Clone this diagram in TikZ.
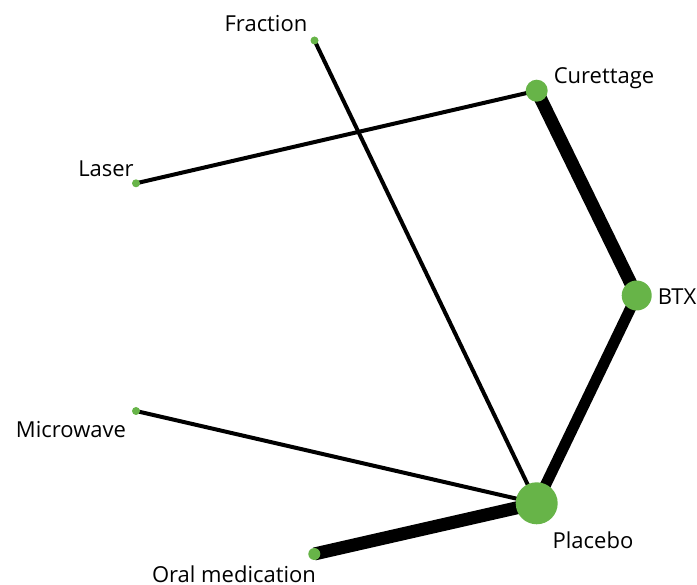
\documentclass[tikz,border=0pt]{standalone}
\usepackage{fontspec}
\setmainfont{Open Sans}
\definecolor{nodegreen}{RGB}{103,180,72}
\begin{document}
\begin{tikzpicture}[x=1pt,y=-1pt,
  dot/.style={circle,fill=nodegreen,inner sep=0pt,minimum size=#1},
  lab/.style={anchor=base,font=\fontsize{22}{24}\selectfont,inner sep=0pt},
  edge/.style={draw=black,line width=#1}]
\useasboundingbox (0,0) rectangle (697,585);
% node positions
\coordinate (pF) at (314.5,40.5);
\coordinate (pC) at (536.7,90.7);
\coordinate (pL) at (136,183.3);
\coordinate (pB) at (636.7,295.5);
\coordinate (pM) at (136,411);
\coordinate (pP) at (536.7,503.3);
\coordinate (pO) at (314.3,554);
% edges
\draw[edge=4pt] (pF) -- (pP);
\draw[edge=4pt] (pL) -- (pC);
\draw[edge=4pt] (pM) -- (pP);
\draw[edge=13pt] (pC) -- (pB);
\draw[edge=11pt] (pB) -- (pP);
\draw[edge=13pt] (pO) -- (pP);
% nodes
\node[dot=8pt] (F) at (pF) {};
\node[dot=22pt] (C) at (pC) {};
\node[dot=8pt] (L) at (pL) {};
\node[dot=30pt] (B) at (pB) {};
\node[dot=8pt] (M) at (pM) {};
\node[dot=42pt] (P) at (pP) {};
\node[dot=12pt] (O) at (pO) {};
% labels
\node[lab] (tF) at (266,32) {Fraction};
\node[lab] (tC) at (604,84) {Curettage};
\node[lab] (tL) at (106,177) {Laser};
\node[lab] (tB) at (677,305) {BTX};
\node[lab] (tM) at (71,438) {Microwave};
\node[lab] (tP) at (593,549) {Placebo};
\node[lab] (tO) at (234,582) {Oral medication};
\end{tikzpicture}
\end{document}
